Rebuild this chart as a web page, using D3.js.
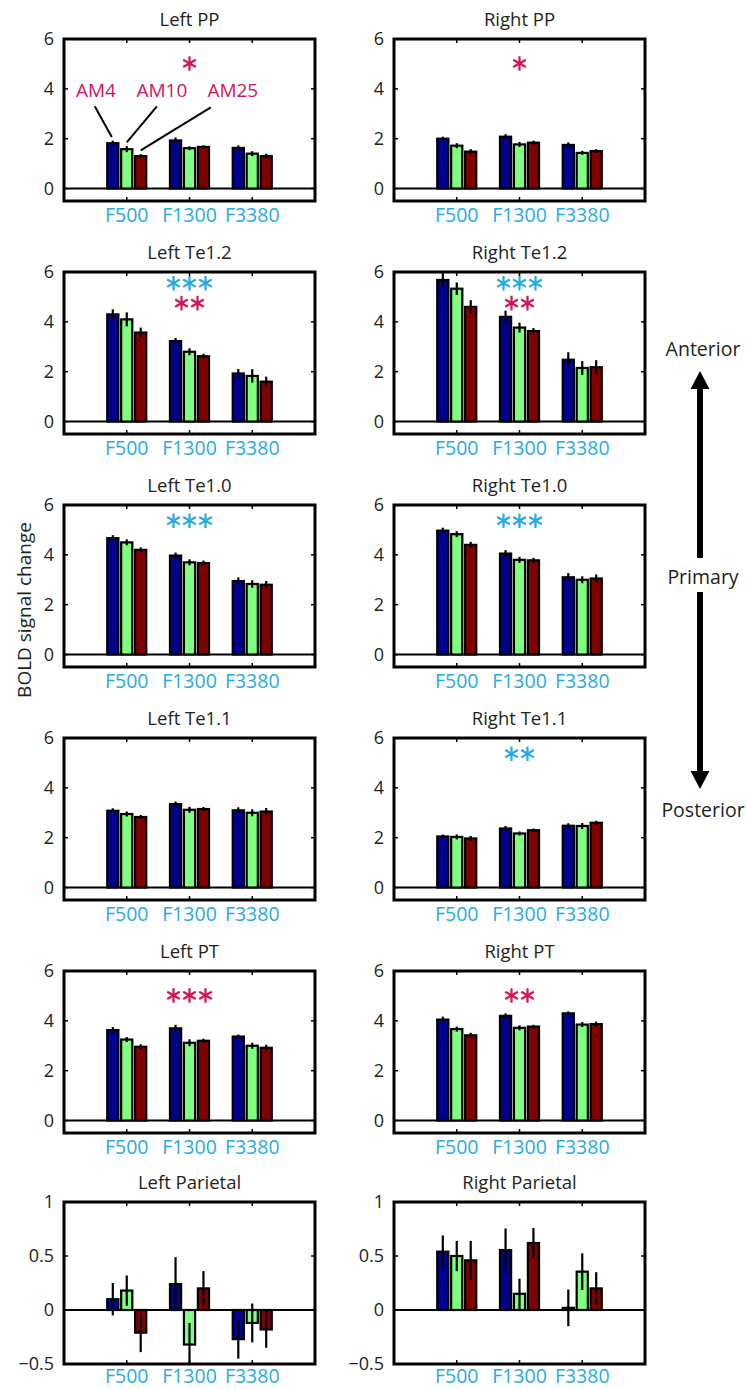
<!DOCTYPE html>
<html>
<head>
<meta charset="utf-8">
<script src="https://cdn.jsdelivr.net/npm/d3@7"></script>
<style>
body { margin: 0; background: #fff; }
svg { display: block; font-family: "Open Sans", sans-serif; }
</style>
</head>
<body>
<script>
var conditions = ["F500", "F1300", "F3380"];
var modulations = ["AM4", "AM10", "AM25"];
var regionNames = ["Left PP", "Right PP", "Left Te1.2", "Right Te1.2", "Left Te1.0", "Right Te1.0",
                   "Left Te1.1", "Right Te1.1", "Left PT", "Right PT", "Left Parietal", "Right Parietal"];

// means: one row per condition, one column per AM rate
var leftPP      = [[1.82, 1.58, 1.30], [1.93, 1.62, 1.67], [1.63, 1.40, 1.30]];
var rightPP     = [[2.00, 1.72, 1.48], [2.08, 1.77, 1.84], [1.75, 1.43, 1.50]];
var leftTe12    = [[4.30, 4.10, 3.57], [3.23, 2.80, 2.62], [1.93, 1.83, 1.60]];
var rightTe12   = [[5.68, 5.33, 4.60], [4.20, 3.77, 3.63], [2.48, 2.15, 2.18]];
var leftTe10    = [[4.67, 4.50, 4.20], [3.97, 3.70, 3.67], [2.95, 2.83, 2.80]];
var rightTe10   = [[4.97, 4.83, 4.40], [4.05, 3.80, 3.78], [3.10, 3.00, 3.05]];
var leftTe11    = [[3.08, 2.95, 2.83], [3.35, 3.12, 3.15], [3.10, 3.00, 3.05]];
var rightTe11   = [[2.05, 2.03, 1.97], [2.37, 2.17, 2.30], [2.48, 2.47, 2.60]];
var leftPT      = [[3.63, 3.25, 2.96], [3.70, 3.12, 3.20], [3.37, 3.00, 2.92]];
var rightPT     = [[4.05, 3.67, 3.42], [4.20, 3.72, 3.77], [4.30, 3.85, 3.87]];
var leftPar     = [[0.10, 0.18, -0.21], [0.24, -0.32, 0.20], [-0.27, -0.12, -0.18]];
var rightPar    = [[0.54, 0.50, 0.46], [0.555, 0.15, 0.62], [0.02, 0.355, 0.20]];

// standard errors
var leftPPErr    = [[0.10, 0.12, 0.08], [0.12, 0.08, 0.07], [0.10, 0.10, 0.10]];
var rightPPErr   = [[0.08, 0.10, 0.10], [0.10, 0.10, 0.08], [0.10, 0.08, 0.08]];
var leftTe12Err  = [[0.20, 0.28, 0.20], [0.12, 0.14, 0.10], [0.18, 0.27, 0.20]];
var rightTe12Err = [[0.30, 0.25, 0.27], [0.25, 0.20, 0.12], [0.30, 0.28, 0.28]];
var leftTe10Err  = [[0.12, 0.12, 0.10], [0.12, 0.12, 0.10], [0.15, 0.15, 0.15]];
var rightTe10Err = [[0.12, 0.12, 0.12], [0.14, 0.12, 0.10], [0.17, 0.14, 0.16]];
var leftTe11Err  = [[0.10, 0.10, 0.08], [0.10, 0.12, 0.08], [0.12, 0.14, 0.14]];
var rightTe11Err = [[0.08, 0.10, 0.10], [0.10, 0.08, 0.07], [0.10, 0.12, 0.08]];
var leftPTErr    = [[0.12, 0.10, 0.10], [0.14, 0.14, 0.08], [0.08, 0.12, 0.12]];
var rightPTErr   = [[0.12, 0.10, 0.10], [0.10, 0.10, 0.07], [0.08, 0.10, 0.10]];
var leftParErr   = [[0.15, 0.14, 0.18], [0.25, 0.20, 0.16], [0.18, 0.18, 0.17]];
var rightParErr  = [[0.15, 0.14, 0.18], [0.20, 0.14, 0.14], [0.17, 0.17, 0.15]];

// significance stars (frequency effect = cyan, AM effect = pink)
var freqStars = [0, 0, 3, 3, 3, 3, 0, 2, 0, 0, 0, 0];
var amStars   = [1, 1, 2, 2, 0, 0, 0, 0, 3, 2, 0, 0];

var sideLabels = ["Anterior", "Primary", "Posterior"];
var yLabel = "BOLD signal change";
var mainTicks = [0, 2, 4, 6];
var parTicks = [-0.5, 0, 0.5, 1];

var means = [leftPP, rightPP, leftTe12, rightTe12, leftTe10, rightTe10, leftTe11, rightTe11, leftPT, rightPT, leftPar, rightPar];
var errs = [leftPPErr, rightPPErr, leftTe12Err, rightTe12Err, leftTe10Err, rightTe10Err, leftTe11Err, rightTe11Err, leftPTErr, rightPTErr, leftParErr, rightParErr];

var barColors = ["#00008f", "#80ff80", "#800000"];
var cyan = "#29abe2", pink = "#d4145a", ink = "#231f20";

var W = 746, H = 1389;
var colX = [64, 394], panelW = 251, panelH = 162, rowTop = 39, rowStep = 233;

var svg = d3.select("body").append("svg").attr("width", W).attr("height", H);
svg.append("rect").attr("width", W).attr("height", H).attr("fill", "#fff");

var fmt = function(d) { return d < 0 ? "\u2212" + Math.abs(d) : "" + d; };

regionNames.forEach(function(name, p) {
 var parietal = p >= 10;
 var left = colX[p % 2], top = rowTop + Math.floor(p / 2) * rowStep - (parietal ? 2 : 0);
 var x = d3.scaleLinear().domain([0, 4]).range([left, left + panelW]);
 var y = d3.scaleLinear().domain(parietal ? [-0.5, 1] : [-0.5, 6]).range([top + panelH, top]);
 var ticks = parietal ? parTicks : mainTicks;
 var g = svg.append("g");

 svg.append("clipPath").attr("id", "clip" + p).append("rect")
  .attr("x", left).attr("y", top).attr("width", panelW).attr("height", panelH);
 var plot = g.append("g").attr("clip-path", "url(#clip" + p + ")");

 var rows = [];
 means[p].forEach(function(grp, c) {
  grp.forEach(function(v, m) { rows.push({c: c, m: m, v: v, e: errs[p][c][m]}); });
 });
 var off = 0.667 / 3, bw = off * 0.8;
 var cx = function(d) { return x(d.c + 1 + (d.m - 1) * off); };

 plot.append("line").attr("x1", left).attr("x2", left + panelW)
  .attr("y1", y(0)).attr("y2", y(0)).attr("stroke", "#000").attr("stroke-width", 2);

 plot.selectAll("rect.bar").data(rows).enter().append("rect").attr("class", "bar")
  .attr("x", function(d) { return cx(d) - (x(bw) - x(0)) / 2; })
  .attr("width", x(bw) - x(0))
  .attr("y", function(d) { return y(Math.max(0, d.v)); })
  .attr("height", function(d) { return Math.abs(y(d.v) - y(0)); })
  .attr("fill", function(d) { return barColors[d.m]; })
  .attr("stroke", "#000").attr("stroke-width", 2.2);

 plot.selectAll("line.err").data(rows).enter().append("line").attr("class", "err")
  .attr("x1", cx).attr("x2", cx)
  .attr("y1", function(d) { return y(d.v - d.e); })
  .attr("y2", function(d) { return y(d.v + d.e); })
  .attr("stroke", "#000").attr("stroke-width", 2.2);

 // inward ticks on all four sides
 ticks.forEach(function(t) {
  g.append("line").attr("x1", left).attr("x2", left + 4).attr("y1", y(t)).attr("y2", y(t)).attr("stroke", "#000").attr("stroke-width", 1.5);
  g.append("line").attr("x1", left + panelW).attr("x2", left + panelW - 4).attr("y1", y(t)).attr("y2", y(t)).attr("stroke", "#000").attr("stroke-width", 1.5);
 });
 conditions.forEach(function(c, i) {
  g.append("line").attr("x1", x(i + 1)).attr("x2", x(i + 1)).attr("y1", top).attr("y2", top + 4).attr("stroke", "#000").attr("stroke-width", 1.5);
  g.append("line").attr("x1", x(i + 1)).attr("x2", x(i + 1)).attr("y1", top + panelH).attr("y2", top + panelH - 4).attr("stroke", "#000").attr("stroke-width", 1.5);
 });

 g.append("rect").attr("x", left).attr("y", top).attr("width", panelW).attr("height", panelH)
  .attr("fill", "none").attr("stroke", "#000").attr("stroke-width", 3);

 g.selectAll("text.yt").data(ticks).enter().append("text").attr("class", "yt")
  .attr("x", left - 10).attr("y", function(d) { return y(d); }).attr("dy", "0.36em")
  .attr("text-anchor", "end").attr("font-size", 18).attr("fill", ink).text(fmt);

 g.selectAll("text.xt").data(conditions).enter().append("text").attr("class", "xt")
  .attr("x", function(d, i) { return x(i + 1); }).attr("y", top + panelH + (parietal ? 19 : 21))
  .attr("text-anchor", "middle").attr("font-size", 19.5).attr("fill", cyan).text(function(d) { return d; });

 g.append("text").attr("x", left + panelW / 2).attr("y", top - 13).attr("text-anchor", "middle")
  .attr("font-size", 18.5).attr("fill", ink).text(name);

 // significance asterisks over F1300
 var starRows = [];
 if (freqStars[p] && amStars[p]) { starRows = [[freqStars[p], cyan, 5.55], [amStars[p], pink, 4.75]]; }
 else if (freqStars[p]) { starRows = [[freqStars[p], cyan, 5.37]]; }
 else if (amStars[p]) { starRows = [[amStars[p], pink, 5.02]]; }
 starRows.forEach(function(s) {
  d3.range(s[0]).forEach(function(k) {
   g.append("path").attr("d", d3.symbol(d3.symbolAsterisk, 150)())
    .attr("transform", "translate(" + (x(2) + (k - (s[0] - 1) / 2) * 16) + "," + y(s[2]) + ")")
    .attr("stroke", s[1]).attr("stroke-width", 2.2).attr("fill", "none");
  });
 });

 // legend callouts in the first panel
 if (p === 0) {
  var callX = [0.51, 1.56, 2.69], lineFrom = [[0.49, 3.3], [1.48, 3.3], [2.34, 3.26]];
  modulations.forEach(function(mName, m) {
   g.append("text").attr("x", x(callX[m])).attr("y", y(3.66)).attr("text-anchor", "middle")
    .attr("font-size", 19).attr("fill", pink).text(mName);
   var bar = rows[m];
   g.append("line").attr("x1", x(lineFrom[m][0])).attr("y1", y(lineFrom[m][1]))
    .attr("x2", cx(bar) + (m === 0 ? -1 : 0)).attr("y2", y(bar.v + bar.e + 0.15))
    .attr("stroke", "#000").attr("stroke-width", 2);
  });
 }
});

svg.append("text").attr("transform", "translate(31,610) rotate(-90)").attr("text-anchor", "middle")
 .attr("font-size", 19).attr("fill", ink).text(yLabel);

// anterior / posterior arrows on the right
var ax = 700;
var sideY = [356, 584, 817];
sideLabels.forEach(function(t, i) {
 svg.append("text").attr("x", 703).attr("y", sideY[i]).attr("text-anchor", "middle")
  .attr("font-size", 19.5).attr("fill", ink).text(t);
});
svg.append("line").attr("x1", ax).attr("x2", ax).attr("y1", 558).attr("y2", 385).attr("stroke", "#000").attr("stroke-width", 6);
svg.append("path").attr("d", "M" + ax + ",371 L" + (ax - 9.5) + ",389 L" + (ax + 9.5) + ",389 Z").attr("fill", "#000");
svg.append("line").attr("x1", ax).attr("x2", ax).attr("y1", 592).attr("y2", 775).attr("stroke", "#000").attr("stroke-width", 6);
svg.append("path").attr("d", "M" + ax + ",789 L" + (ax - 9.5) + ",771 L" + (ax + 9.5) + ",771 Z").attr("fill", "#000");
</script>
</body>
</html>
